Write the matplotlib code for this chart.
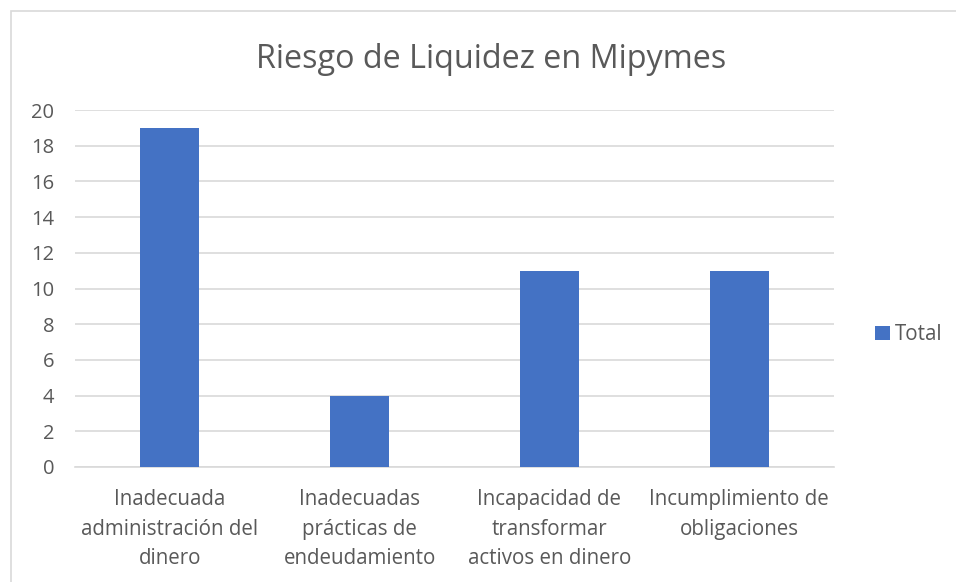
import matplotlib.pyplot as plt
from matplotlib.patches import Rectangle

categorias = [
    "Inadecuada\nadministración del\ndinero",
    "Inadecuadas\nprácticas de\nendeudamiento",
    "Incapacidad de\ntransformar\nactivos en dinero",
    "Incumplimiento de\nobligaciones",
]
totales = [19, 4, 11, 11]
ticks_y = [0, 2, 4, 6, 8, 10, 12, 14, 16, 18, 20]

azul = "#4472C4"
gris_texto = "#595959"
gris_linea = "#D9D9D9"

plt.rcParams["font.family"] = ["Open Sans", "DejaVu Sans"]

fig = plt.figure(figsize=(9.56, 5.82), dpi=100)
ax = fig.add_axes([75 / 956, 1 - 467 / 582, (834 - 75) / 956, (467 - 110) / 582])

# Marco del gráfico
fig.patches.append(Rectangle((11 / 956, -0.1), 1.1, 1 - 11 / 582 + 0.1,
                             transform=fig.transFigure, fill=False,
                             edgecolor=gris_linea, linewidth=1.2))

x = range(len(categorias))
ax.bar(x, totales, width=0.31, color=azul, label="Total", zorder=3)

ax.set_xlim(-0.5, len(categorias) - 0.5)
ax.set_ylim(0, 20)
ax.set_yticks(ticks_y)
ax.set_yticklabels([str(t) for t in ticks_y], fontsize=14.5, color=gris_texto)
ax.set_xticks(list(x))
ax.set_xticklabels(categorias, fontsize=14.8, color=gris_texto, linespacing=1.52)
ax.tick_params(axis="both", length=0)
ax.tick_params(axis="y", pad=15)
ax.tick_params(axis="x", pad=16)
ax.grid(axis="y", color=gris_linea, linewidth=1.2, zorder=0)
for s in ["top", "right", "left"]:
    ax.spines[s].set_visible(False)
ax.spines["bottom"].set_color(gris_linea)
ax.spines["bottom"].set_linewidth(1.2)

fig.text(491 / 956, 1 - 60 / 582, "Riesgo de Liquidez en Mipymes",
         fontsize=23.3, color=gris_texto, ha="center", va="center")

ax.legend(loc="center left", bbox_to_anchor=(1.03, 0.37), frameon=False,
          fontsize=14.8, labelcolor=gris_texto, handlelength=0.7,
          handleheight=0.7, handletextpad=0.25)

fig.savefig("out.png", dpi=100, facecolor="white")
